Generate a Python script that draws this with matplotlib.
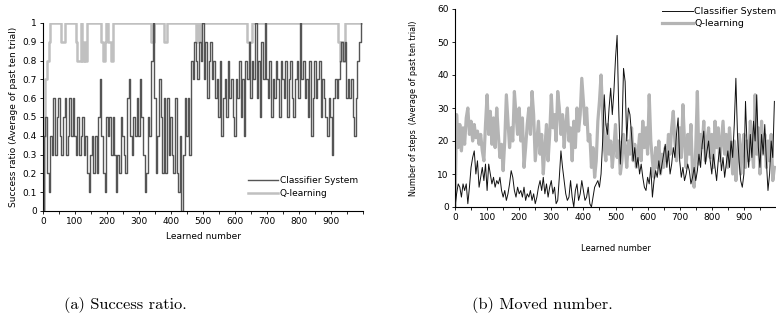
import matplotlib
matplotlib.use("Agg")
import matplotlib.pyplot as plt
import numpy as np

# ---------------- data (sampled every 5 learned trials) ----------------
step = 5
learned = list(range(0, 1000, step))

succ_cs = [
    0.0, 0.4, 0.5, 0.2, 0.1, 0.4, 0.3, 0.6, 0.3, 0.5,
    0.6, 0.4, 0.3, 0.5, 0.6, 0.3, 0.4, 0.6, 0.4, 0.6,
    0.4, 0.3, 0.5, 0.3, 0.4, 0.5, 0.3, 0.4, 0.2, 0.1,
    0.3, 0.4, 0.2, 0.4, 0.2, 0.5, 0.7, 0.4, 0.2, 0.1,
    0.5, 0.4, 0.5, 0.3, 0.5, 0.3, 0.1, 0.3, 0.2, 0.5,
    0.4, 0.3, 0.2, 0.6, 0.7, 0.4, 0.3, 0.5, 0.4, 0.6,
    0.4, 0.7, 0.5, 0.3, 0.1, 0.2, 0.5, 0.4, 0.8, 1.0,
    0.6, 0.2, 0.4, 0.7, 0.5, 0.2, 0.6, 0.2, 0.6, 0.3,
    0.5, 0.3, 0.2, 0.6, 0.2, 0.1, 0.4, 0.0, 0.3, 0.6,
    0.4, 0.6, 0.3, 0.8, 0.7, 0.9, 0.8, 0.7, 0.9, 0.8,
    1.0, 0.7, 0.9, 0.6, 0.8, 0.9, 0.7, 0.8, 0.6, 0.7,
    0.5, 0.8, 0.4, 0.6, 0.7, 0.5, 0.8, 0.6, 0.7, 0.5,
    0.4, 0.7, 0.6, 0.8, 0.5, 0.7, 0.4, 0.8, 0.7, 0.9,
    0.6, 0.8, 0.7, 1.0, 0.6, 0.8, 0.5, 0.9, 0.7, 1.0,
    0.7, 0.6, 0.8, 0.5, 0.7, 0.6, 0.8, 0.7, 0.5, 0.8,
    0.7, 0.6, 0.8, 0.5, 0.7, 0.8, 0.6, 0.5, 0.7, 0.8,
    0.6, 1.0, 0.7, 0.8, 0.6, 0.7, 0.5, 0.8, 0.4, 0.6,
    0.8, 0.6, 0.7, 0.8, 0.5, 0.7, 0.6, 0.5, 0.4, 0.6,
    0.5, 0.3, 0.6, 0.7, 0.6, 0.7, 0.8, 0.9, 0.8, 0.9,
    0.6, 0.7, 0.6, 0.7, 0.5, 0.4, 0.6, 0.8, 0.9, 1.0,
]

succ_q = [
    0.0, 0.4, 0.7, 0.8, 0.9, 1.0, 1.0, 1.0, 1.0, 1.0,
    1.0, 1.0, 0.9, 0.9, 1.0, 1.0, 1.0, 1.0, 1.0, 1.0,
    1.0, 0.9, 0.8, 0.8, 1.0, 0.8, 0.9, 0.8, 1.0, 1.0,
    1.0, 1.0, 1.0, 1.0, 1.0, 1.0, 1.0, 0.9, 0.8, 0.9,
    1.0, 0.9, 0.9, 0.8, 1.0, 1.0, 1.0, 1.0, 1.0, 1.0,
    1.0, 1.0, 1.0, 1.0, 1.0, 1.0, 1.0, 1.0, 1.0, 1.0,
    1.0, 1.0, 1.0, 1.0, 1.0, 1.0, 1.0, 1.0, 0.9, 0.9,
    1.0, 1.0, 1.0, 1.0, 1.0, 1.0, 0.9, 0.9, 1.0, 1.0,
    1.0, 1.0, 1.0, 1.0, 1.0, 1.0, 1.0, 1.0, 1.0, 1.0,
    1.0, 1.0, 1.0, 1.0, 1.0, 1.0, 0.9, 1.0, 0.9, 1.0,
    1.0, 1.0, 1.0, 1.0, 1.0, 1.0, 1.0, 1.0, 1.0, 1.0,
    1.0, 1.0, 1.0, 1.0, 1.0, 1.0, 1.0, 1.0, 1.0, 1.0,
    1.0, 1.0, 1.0, 1.0, 1.0, 1.0, 1.0, 1.0, 0.9, 0.9,
    0.9, 1.0, 1.0, 1.0, 1.0, 1.0, 1.0, 1.0, 1.0, 1.0,
    1.0, 1.0, 1.0, 1.0, 1.0, 1.0, 1.0, 1.0, 1.0, 1.0,
    1.0, 1.0, 1.0, 1.0, 1.0, 1.0, 1.0, 1.0, 1.0, 1.0,
    1.0, 1.0, 1.0, 1.0, 1.0, 1.0, 1.0, 1.0, 1.0, 1.0,
    1.0, 1.0, 1.0, 1.0, 1.0, 1.0, 1.0, 1.0, 1.0, 1.0,
    1.0, 1.0, 1.0, 1.0, 1.0, 0.9, 0.8, 0.9, 0.8, 1.0,
    1.0, 1.0, 1.0, 1.0, 1.0, 1.0, 1.0, 1.0, 1.0, 1.0,
]

steps_cs = [
    0, 4, 7, 6, 3, 7, 5, 7, 1, 6,
    12, 15, 17, 10, 14, 6, 9, 12, 8, 13,
    5, 13, 10, 7, 9, 6, 8, 7, 9, 5,
    3, 5, 2, 4, 7, 11, 9, 5, 3, 6,
    4, 5, 3, 6, 2, 4, 3, 5, 2, 4,
    1, 3, 6, 8, 5, 9, 4, 7, 3, 6,
    8, 4, 6, 1, 2, 9, 17, 12, 8, 4,
    2, 3, 8, 3, 0, 5, 7, 2, 4, 8,
    5, 2, 3, 6, 1, 0, 3, 6, 7, 8,
    6, 10, 20, 34, 25, 22, 30, 36, 28, 35,
    45, 52, 30, 13, 22, 42, 38, 20, 30, 28,
    22, 14, 18, 12, 15, 10, 13, 9, 6, 5,
    9, 7, 12, 3, 8, 11, 9, 14, 10, 13,
    16, 19, 12, 17, 10, 13, 18, 15, 22, 27,
    14, 9, 12, 8, 10, 13, 11, 7, 9, 12,
    8, 11, 16, 12, 19, 23, 13, 17, 20, 14,
    10, 16, 12, 8, 14, 18, 11, 15, 9, 13,
    17, 12, 20, 15, 25, 39, 22, 14, 8, 6,
    10, 32, 18, 12, 22, 15, 26, 20, 34, 18,
    12, 22, 16, 25, 14, 5, 10, 20, 15, 32,
]

steps_q = [
    0, 28, 18, 25, 17, 24, 19, 27, 30, 22,
    26, 20, 25, 21, 23, 19, 22, 17, 14, 25,
    34, 22, 29, 19, 27, 18, 30, 22, 15, 19,
    11, 20, 34, 26, 18, 24, 20, 35, 28, 22,
    30, 20, 27, 12, 18, 25, 30, 22, 35, 28,
    14, 20, 26, 16, 22, 10, 18, 25, 14, 22,
    34, 24, 28, 20, 35, 30, 22, 28, 18, 25,
    30, 20, 24, 14, 26, 18, 30, 23, 28, 39,
    32, 25, 30, 20, 22, 12, 18, 9, 14, 26,
    32, 40, 28, 18, 14, 25, 16, 20, 12, 18,
    25, 15, 20, 10, 14, 22, 18, 12, 20, 16,
    24, 14, 19, 12, 16, 22, 14, 26, 18, 24,
    16, 34, 20, 14, 9, 18, 12, 20, 10, 16,
    12, 18, 14, 22, 16, 24, 29, 20, 14, 18,
    24, 15, 31, 20, 12, 22, 16, 25, 10, 6,
    18, 35, 13, 22, 18, 26, 14, 20, 24, 15,
    22, 12, 26, 18, 24, 14, 20, 26, 16, 22,
    12, 24, 18, 10, 20, 8, 16, 22, 10, 18,
    22, 12, 20, 14, 26, 18, 12, 34, 16, 24,
    10, 26, 16, 22, 12, 20, 14, 22, 8, 12,
]

series_names = ["Classifier System", "Q-learning"]
xtick_labels = ["0", "100", "200", "300", "400", "500", "600", "700", "800", "900"]
captions = ["(a) Success ratio.", "(b) Moved number."]

# ---------------- figure ----------------
W, H = 776, 323
fig = plt.figure(figsize=(W / 100, H / 100), dpi=100)

def px_axes(x0, x1, ytop, ybot):
    return fig.add_axes([x0 / W, 1 - ybot / H, (x1 - x0) / W, (ybot - ytop) / H])

tick_fs = 6.5

def style(ax):
    for s in ("top", "right"):
        ax.spines[s].set_visible(False)
    ax.spines["left"].set_linewidth(0.8)
    ax.spines["bottom"].set_linewidth(0.8)
    ax.set_xlim(0, 1000)
    ax.set_xticks(np.arange(0, 1001, 50))
    labels = []
    for i in range(21):
        labels.append(xtick_labels[i // 2] if (i % 2 == 0 and i // 2 < len(xtick_labels)) else "")
    ax.set_xticklabels(labels)
    ax.tick_params(axis="both", direction="out", length=2.5, width=0.6,
                   labelsize=tick_fs, pad=2)

# ---- (a) success ratio ----
ax1 = px_axes(43, 363, 23, 211)
ax1.plot(learned, succ_q, color="#c0c0c0", lw=1.8, drawstyle="steps-mid",
         label=series_names[1], zorder=2)
ax1.plot(learned, succ_cs, color="#555555", lw=1.0, drawstyle="steps-mid",
         label=series_names[0], zorder=3)
ax1.set_ylim(0, 1)
ax1.set_yticks(np.arange(0, 1.01, 0.1))
ax1.set_yticklabels(["0", "0.1", "0.2", "0.3", "0.4", "0.5", "0.6", "0.7", "0.8", "0.9", "1"])
style(ax1)
ax1.set_xlabel("Learned number", fontsize=6.5, labelpad=4)
ax1.set_ylabel("Success ratio (Average of past ten trial)", fontsize=6.5, labelpad=3)
h, l = ax1.get_legend_handles_labels()
ax1.legend(h[::-1], l[::-1], loc="upper left", bbox_to_anchor=(248 / W, 1 - 176 / H),
           bbox_transform=fig.transFigure, frameon=False, fontsize=6.5,
           handlelength=3.3, handletextpad=0.2, labelspacing=0.45, borderpad=0,
           borderaxespad=0)

# ---- (b) moved number ----
ax2 = px_axes(455, 776, 9, 207)
ax2.plot(learned, steps_q, color="#b4b4b4", lw=2.3, label=series_names[1], zorder=2)
ax2.plot(learned, steps_cs, color="#111111", lw=0.7, label=series_names[0], zorder=3)
ax2.set_ylim(0, 60)
ax2.set_yticks(np.arange(0, 61, 10))
style(ax2)
ax2.set_xlabel("Learned number", fontsize=6, labelpad=16)
ax2.set_ylabel("Number of steps  (Average of past ten trial)", fontsize=5.8, labelpad=14)
h, l = ax2.get_legend_handles_labels()
ax2.legend(h[::-1], l[::-1], loc="upper left", bbox_to_anchor=(662 / W, 1 - 7 / H),
           bbox_transform=fig.transFigure, frameon=False, fontsize=6.8,
           handlelength=3.3, handletextpad=0.1, labelspacing=0.35, borderpad=0,
           borderaxespad=0)

# ---- captions ----
fig.text(125 / W, 1 - 305 / H, captions[0], ha="center", va="center",
         fontsize=11.8, family="cmr10")
fig.text(542 / W, 1 - 305 / H, captions[1], ha="center", va="center",
         fontsize=11.8, family="cmr10")

fig.savefig("out.png", dpi=100)
